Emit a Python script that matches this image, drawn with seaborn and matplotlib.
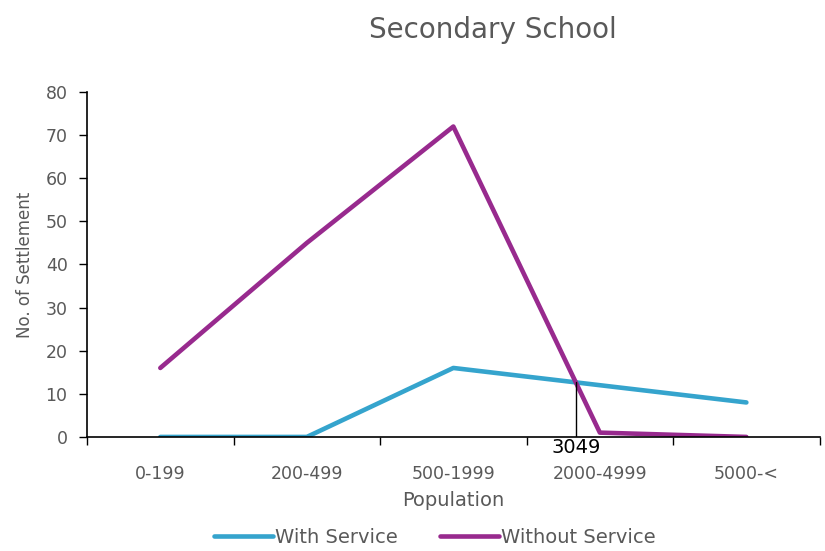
import numpy as np
import pandas as pd
import matplotlib.pyplot as plt
import seaborn as sns

sns.set_theme(style="white")
plt.rcParams["font.family"] = ["DejaVu Sans"]

categories = ["0-199", "200-499", "500-1999", "2000-4999", "5000-<"]
with_service = [0, 0, 16, 12, 8]
without_service = [16, 45, 72, 1, 0]
series_names = ["With Service", "Without Service"]
annotation_label = "3049"

COLORS = ["#35A4CD", "#982A8E"]
TEXT = "#595959"

df = pd.DataFrame({
    "Population": categories * 2,
    "Count": with_service + without_service,
    "Series": [series_names[0]] * 5 + [series_names[1]] * 5,
})

fig = plt.figure(figsize=(8.25, 5.51), dpi=100)
ax = fig.add_axes([0.1055, 0.207, 0.888, 0.626])
sns.lineplot(data=df, x="Population", y="Count", hue="Series",
             palette=COLORS, linewidth=3.3, sort=False, ax=ax)

ax.set_xlim(-0.5, 4.5)
ax.set_ylim(0, 80)
ax.set_yticks(range(0, 81, 10))
ax.set_xticks(range(5))
ax.set_xticklabels(categories)
ax.set_xticks(np.arange(-0.5, 4.6, 1), minor=True)
ax.tick_params(axis="x", which="major", bottom=True, length=0, pad=20,
               labelsize=12.5, labelcolor=TEXT)
ax.tick_params(axis="x", which="minor", bottom=True, length=6, width=1,
               color="black", direction="out")
ax.tick_params(axis="y", left=True, length=6, width=1, color="black",
               direction="out", labelsize=12.5, labelcolor=TEXT, pad=8)
for side in ["top", "right"]:
    ax.spines[side].set_visible(False)
for side in ["left", "bottom"]:
    ax.spines[side].set_color("black")
    ax.spines[side].set_linewidth(1.2)

ax.set_xlabel("Population", fontsize=14, color=TEXT, labelpad=6)
ax.set_ylabel("No. of Settlement", fontsize=12, color=TEXT, labelpad=8)

# crossing point of the two series between 500-1999 and 2000-4999
d0 = without_service[2] - with_service[2]
d1 = without_service[3] - with_service[3]
t = d0 / (d0 - d1)
xc = 2 + t
yc = with_service[2] + t * (with_service[3] - with_service[2])
ax.plot([xc, xc], [0, yc], color="black", linewidth=1)
ax.text(xc, -0.3, annotation_label, ha="center", va="top", fontsize=14,
        color="black")

fig.text(0.598, 0.945, "Secondary School", ha="center", va="center",
         fontsize=20, color=TEXT)

handles, labels = ax.get_legend_handles_labels()
ax.legend(handles, labels, loc="center", bbox_to_anchor=(0.527, 0.024),
          bbox_transform=fig.transFigure, ncol=2, frameon=False,
          fontsize=14, labelcolor=TEXT, handlelength=3.0, handletextpad=0.1,
          columnspacing=2.2)

fig.savefig("out.png", dpi=100)
